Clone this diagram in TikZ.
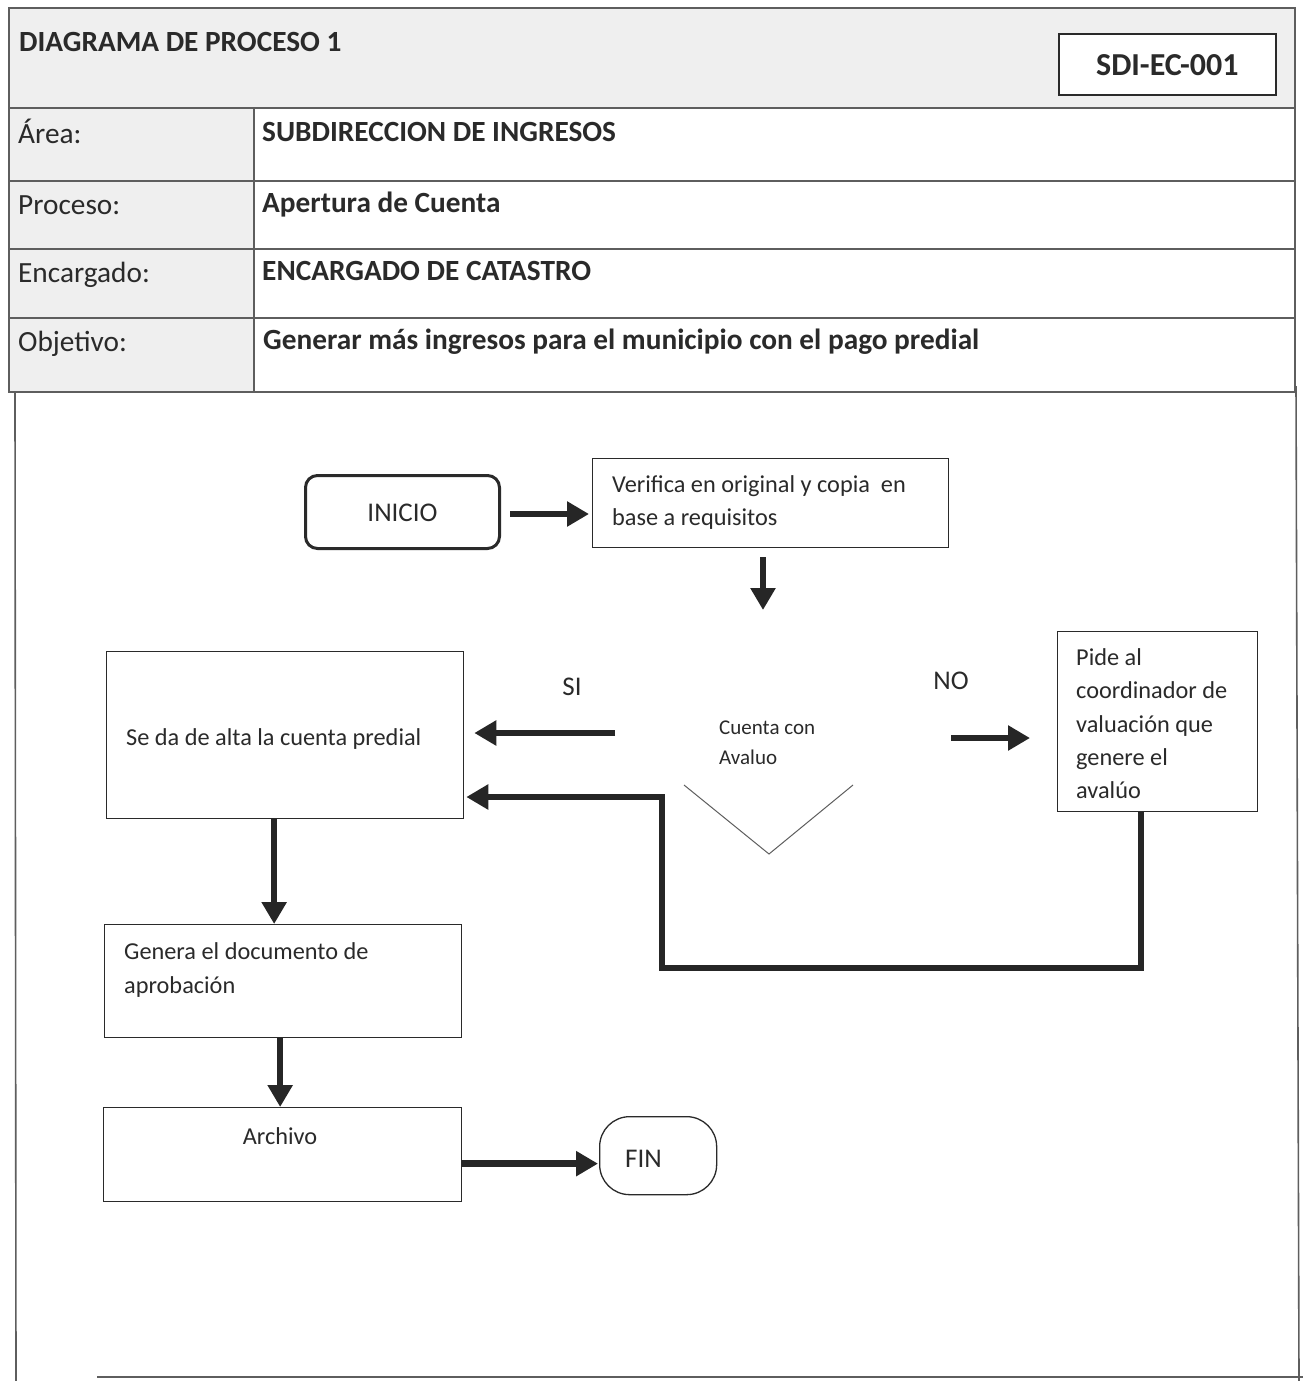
\documentclass[tikz,border=0pt]{standalone}
\usepackage{fontspec}
\setmainfont{Carlito}
\usetikzlibrary{arrows.meta,calc}
\definecolor{rule}{HTML}{5E5E5E}
\definecolor{ink}{HTML}{2A2A2A}
\definecolor{hdrgray}{HTML}{EFEFEF}
\definecolor{arrowc}{HTML}{262626}
\tikzset{
  hdr/.style={font=\fontsize{29.3}{34}\selectfont, text=ink, inner sep=0pt},
  hdrb/.style={hdr, font=\fontsize{29.3}{34}\selectfont\bfseries},
  txt/.style={font=\fontsize{24.3}{28}\selectfont, text=ink, inner sep=0pt},
  small/.style={font=\fontsize{21}{24}\selectfont, text=ink, inner sep=0pt},
  big/.style={font=\fontsize{27}{32}\selectfont, text=ink, inner sep=0pt},
  box/.style={draw=ink, line width=1.3pt, fill=white, inner sep=0pt, anchor=north west},
  flow/.style={draw=arrowc, line width=6.5pt, line join=miter,
    -{Triangle[width=24pt,length=22pt]}},
  tablerule/.style={draw=rule, line width=2.4pt},
  framerule/.style={draw=rule, line width=1.6pt}
}
\begin{document}
\begin{tikzpicture}[x=1pt,y=-1pt]
\useasboundingbox (0,0) rectangle (1303,1381);
\fill[white] (0,0) rectangle (1303,1381);

% ---------- header table ----------
\fill[hdrgray] (9,8) rectangle (1295,108);
\fill[hdrgray] (9,108) rectangle (254,392);
\draw[tablerule] (9,8) rectangle (1295,392);
\draw[tablerule] (9,108) -- (1295,108);
\draw[tablerule] (9,181) -- (1295,181);
\draw[tablerule] (9,249) -- (1295,249);
\draw[tablerule] (9,318) -- (1295,318);
\draw[tablerule] (254,108) -- (254,392);

\node[hdrb, anchor=base west] (title) at (19,52) {DIAGRAMA DE PROCESO 1};
\node[draw=ink, line width=1.6pt, fill=white, minimum width=217pt, minimum height=61pt,
      anchor=north west, inner sep=0pt] (code) at (1058,33) {};
\node[hdrb, anchor=base, font=\fontsize{32}{36}\selectfont\bfseries] (codetxt) at ($(code.center)+(0,11)$) {SDI-EC-001};

\node[hdr, anchor=base west] (l1) at (18,143) {Área:};
\node[hdr, anchor=base west] (l2) at (18,214) {Proceso:};
\node[hdr, anchor=base west] (l3) at (18,282) {Encargado:};
\node[hdr, anchor=base west] (l4) at (18,351) {Objetivo:};
\node[hdrb, anchor=base west] (v1) at (262,141) {SUBDIRECCION DE INGRESOS};
\node[hdrb, anchor=base west] (v2) at (262,212) {Apertura de Cuenta};
\node[hdrb, anchor=base west] (v3) at (262,280) {ENCARGADO DE CATASTRO};
\node[hdrb, anchor=base west] (v4) at (263,349) {Generar más ingresos para el municipio con el pago predial};

% ---------- frame of the flow area ----------
\draw[framerule] (15,392) -- (16,1381);
\draw[framerule] (1296,386) -- (1299,1381);
\draw[framerule] (97,1377) -- (1303,1377);

% ---------- flow nodes ----------
\node[draw=ink, line width=3pt, rounded corners=12pt, minimum width=194pt,
      minimum height=73pt, anchor=north west, inner sep=0pt] (inicio) at (304,474) {};
\node[big, anchor=base] (iniciotxt) at ($(inicio.center)+(0,9)$) {INICIO};

\node[box, minimum width=356pt, minimum height=89pt] (verif) at (592,458) {};
\node[txt, anchor=base west] (verif1) at (612,492) {Verifica en original y copia~ en};
\node[txt, anchor=base west] (verif2) at (612,525) {base a requisitos};

\node[box, minimum width=357pt, minimum height=167pt] (alta) at (106,651) {};
\node[txt, anchor=base west] (altatxt) at (126,745) {Se da de alta la cuenta predial};

\node[box, minimum width=200pt, minimum height=180pt] (pide) at (1057,631) {};
\node[txt, anchor=base west] (pide1) at (1076,665) {Pide al};
\node[txt, anchor=base west] (pide2) at (1076,698) {coordinador de};
\node[txt, anchor=base west] (pide3) at (1076,732) {valuación que};
\node[txt, anchor=base west] (pide4) at (1076,765) {genere el};
\node[txt, anchor=base west] (pide5) at (1076,798) {avalúo};

\node[box, minimum width=357pt, minimum height=113pt] (genera) at (104,924) {};
\node[txt, anchor=base west] (genera1) at (124,959) {Genera el documento de};
\node[txt, anchor=base west] (genera2) at (124,993) {aprobación};

\node[box, minimum width=358pt, minimum height=94pt] (archivo) at (103,1107) {};
\node[txt, anchor=base] (archivotxt) at (280,1144) {Archivo};

\node[draw=ink, line width=1.3pt, rounded corners=30pt, minimum width=117pt,
      minimum height=78pt, anchor=north west, inner sep=0pt] (fin) at (599,1116) {};
\node[big, anchor=base west] (fintxt) at (625,1167) {FIN};

% ---------- decision ----------
\coordinate (dec) at (769,785);
\node[small, anchor=base west] (dec1) at (719,734) {Cuenta con};
\node[small, anchor=base west] (dec2) at (719,764) {Avaluo};
\draw[draw=rule, line width=1pt] ($(dec)+(-85,0)$) -- ($(dec)+(0,69)$) -- ($(dec)+(84,0)$);
\node[big, anchor=base] (si) at (572,695) {SI};
\node[big, anchor=base] (no) at (951,689) {NO};

% ---------- connectors ----------
\draw[flow, shorten <=9pt, shorten >=3pt] ([yshift=-2pt]inicio.east) -- ([yshift=-2pt]inicio.east -| verif.west);
\coordinate (decTop) at (763,610);
\draw[flow, shorten <=9pt] (verif.south -| decTop) -- (decTop);
\coordinate (siTail) at (615,733);
\draw[flow, shorten >=10pt] (siTail) -- (siTail -| alta.east);
\coordinate (noTail) at (951,738);
\draw[flow, shorten >=27pt] (noTail) -- (noTail -| pide.west);
\coordinate (loopR) at (1141,968);
\coordinate (loopL) at (662,797);
\draw[flow, shorten >=2pt] (pide.south -| loopR) -- (loopR) -| (loopL) -- (loopL -| alta.east);
\draw[flow] ([xshift=-11pt]alta.south) -- ([xshift=-11pt]alta.south |- genera.north);
\draw[flow] ([xshift=-3pt]genera.south) -- ([xshift=-3pt]genera.south |- archivo.north);
\draw[flow, shorten >=1pt] ([yshift=-9pt]archivo.east) -- ([yshift=-9pt]archivo.east -| fin.west);
\end{tikzpicture}
\end{document}
